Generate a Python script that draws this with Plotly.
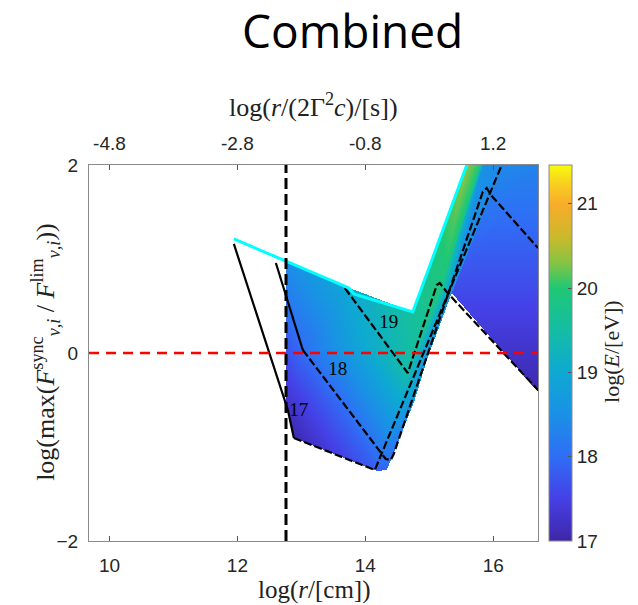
import numpy as np
import plotly.graph_objects as go

# ---------------- axes ----------------
R_LIMITS = [9.68, 16.70]            # log(r/[cm])
RATIO_LIMITS = [-2.0, 2.0]          # log(max(F_sync / F_lim))
T_OFFSET = 14.8                     # log(r/(2Γ²c)/[s]) = log(r/[cm]) - T_OFFSET
R_TICKS = [10, 12, 14, 16]
T_TICKS = [-4.8, -2.8, -0.8, 1.2]
RATIO_TICKS = [-2, 0, 2]
E_LIMITS = [17.0, 21.46]
E_TICKS = [17, 18, 19, 20, 21]

# ---------------- shaded region A (mesh: vertices with log E) ----------------
A_R = [12.758, 13.711, 14.742, 15.586, 15.789, 15.852, 16.148, 15.352,
       14.961, 14.336, 14.180, 12.883, 12.789, 12.758, 13.023, 14.664,
       14.273, 15.180, 13.961, 13.602, 14.773]
A_RATIO = [0.979, 0.702, 0.436, 2.000, 2.000, 2.000, 2.000, 0.638,
           -0.074, -1.245, -1.255, -0.904, -0.606, -0.543, 0.032, -0.213,
           -1.117, 0.691, 0.106, -0.500, -0.500]
A_E = [18.45, 18.95, 19.6, 20.35, 20.0, 18.5, 18.4, 18.5,
       18.65, 17.9, 17.85, 17.05, 17.2, 17.25, 18.0, 19.45,
       18.1, 19.9, 19.0, 18.0, 18.7]
A_TRI = [(0, 1, 14), (0, 14, 13), (13, 14, 12), (12, 14, 19), (12, 19, 11),
         (11, 19, 10), (19, 16, 10), (16, 9, 10), (1, 18, 14), (14, 18, 19),
         (18, 16, 19), (1, 2, 18), (2, 15, 18), (18, 15, 16), (15, 20, 16),
         (16, 20, 9), (20, 8, 9), (15, 8, 20), (2, 17, 15), (15, 17, 7),
         (15, 7, 8), (2, 3, 17), (3, 4, 17), (4, 5, 17), (5, 7, 17), (5, 6, 7)]

# ---------------- shaded region B ----------------
B_R = [15.352, 16.148, 16.700, 16.700]
B_RATIO = [0.638, 2.000, 2.000, -0.415]
B_E = [17.6, 18.4, 18.3, 17.05]
B_TRI = [(0, 1, 2), (0, 2, 3)]

# ---------------- curves ----------------
ENV_R = [11.945, 12.758, 13.289, 13.711, 13.758, 13.820, 14.742, 15.586]
ENV_RATIO = [1.213, 0.979, 0.819, 0.702, 0.681, 0.628, 0.436, 2.0]

E17_SOLID_R = [11.945, 12.789, 12.883]
E17_SOLID_RATIO = [1.160, -0.606, -0.904]
E17_DASH_R = [12.883, 14.148, 16.133]
E17_DASH_RATIO = [-0.904, -1.245, 2.0]

E18_SOLID_R = [12.602, 13.023]
E18_SOLID_RATIO = [0.957, 0.032]
E18_DASH_R = [13.023, 14.320, 14.398, 14.445, 15.836, 15.898, 15.977, 16.700]
E18_DASH_RATIO = [0.032, -1.128, -1.138, -1.074, 1.713, 1.755, 1.670, 1.117]

E19_DASH_R = [13.680, 14.664, 15.117, 15.164, 15.273, 16.700]
E19_DASH_RATIO = [0.691, -0.213, 0.723, 0.745, 0.649, -0.394]

R_DEC = 12.76          # vertical marker, log(r/[cm])
RATIO_UNITY = 0.0      # horizontal marker

CURVE_LABELS = ["17", "18", "19"]
LABEL_R = [12.961, 13.570, 14.367]
LABEL_RATIO = [-0.617, -0.181, 0.319]

# parula-like colour map, stops given in log E
CMAP_E = [17.0, 17.5, 18.0, 18.5, 19.0, 19.5, 20.0, 20.3, 20.6, 21.0, 21.25, 21.46]
CMAP_C = ["#3e26a8", "#4540e6", "#2f6ef5", "#1a90e6", "#0ea9d2", "#14bda4",
          "#1fc874", "#86c443", "#c9b92c", "#f9ac2a", "#f8d21f", "#f9fb0e"]
colorscale = [[(e - E_LIMITS[0]) / (E_LIMITS[1] - E_LIMITS[0]), c]
              for e, c in zip(CMAP_E, CMAP_C)]

# ---------------- raster shading of the regions ----------------
NX, NY = 449, 376
xs = R_LIMITS[0] + (np.arange(NX) + 0.5) * (R_LIMITS[1] - R_LIMITS[0]) / NX
ys = RATIO_LIMITS[0] + (np.arange(NY) + 0.5) * (RATIO_LIMITS[1] - RATIO_LIMITS[0]) / NY
GX, GY = np.meshgrid(xs, ys)
Z = np.full(GX.shape, np.nan)


def shade(vx, vy, ve, tris):
    for i, j, k in tris:
        x1, y1, e1 = vx[i], vy[i], ve[i]
        x2, y2, e2 = vx[j], vy[j], ve[j]
        x3, y3, e3 = vx[k], vy[k], ve[k]
        det = (y2 - y3) * (x1 - x3) + (x3 - x2) * (y1 - y3)
        l1 = ((y2 - y3) * (GX - x3) + (x3 - x2) * (GY - y3)) / det
        l2 = ((y3 - y1) * (GX - x3) + (x1 - x3) * (GY - y3)) / det
        l3 = 1.0 - l1 - l2
        inside = (l1 >= -1e-9) & (l2 >= -1e-9) & (l3 >= -1e-9)
        Z[inside] = (l1 * e1 + l2 * e2 + l3 * e3)[inside]


shade(B_R, B_RATIO, B_E, B_TRI)
shade(A_R, A_RATIO, A_E, A_TRI)

z_list = [[None if np.isnan(v) else round(float(v), 3) for v in row] for row in Z]

fig = go.Figure()

fig.add_trace(go.Heatmap(
    x=xs, y=ys, z=z_list, zmin=E_LIMITS[0], zmax=E_LIMITS[1],
    colorscale=colorscale, zsmooth=False, hoverinfo="skip",
    colorbar=dict(
        x=1.0245, xanchor="left", xpad=0, y=0.5, yanchor="middle", ypad=0,
        len=1.0, lenmode="fraction", thickness=23,
        outlinecolor="#8a8a8a", outlinewidth=1,
        tickvals=E_TICKS, ticks="inside", ticklen=4, tickcolor="#555",
        tickfont=dict(family="Liberation Sans", size=19, color="#262626"),
    ),
))

dash_curve = "8px,3px"
black = "#000000"


def line(xv, yv, color=black, width=2.2, dash="solid"):
    fig.add_trace(go.Scatter(x=xv, y=yv, mode="lines", hoverinfo="skip",
                             line=dict(color=color, width=width, dash=dash)))


line(E17_SOLID_R, E17_SOLID_RATIO)
line(E17_DASH_R, E17_DASH_RATIO, dash=dash_curve)
line(E18_SOLID_R, E18_SOLID_RATIO)
line(E18_DASH_R, E18_DASH_RATIO, dash=dash_curve)
line(E19_DASH_R, E19_DASH_RATIO, dash=dash_curve)
line(ENV_R, ENV_RATIO, color="#00ffff", width=3)
line([R_DEC, R_DEC], RATIO_LIMITS, width=3, dash="11px,5px")
line(R_LIMITS, [RATIO_UNITY, RATIO_UNITY], color="#ff0000", width=2.6, dash="10px,7px")

fig.add_trace(go.Scatter(
    x=LABEL_R, y=LABEL_RATIO, mode="text", text=CURVE_LABELS, hoverinfo="skip",
    textfont=dict(family="Liberation Serif", size=19, color="black"),
))

# invisible trace carrying the top (time) axis
fig.add_trace(go.Scatter(
    x=[R_LIMITS[0] - T_OFFSET, R_LIMITS[1] - T_OFFSET], y=RATIO_LIMITS,
    xaxis="x2", mode="markers", marker=dict(opacity=0), hoverinfo="skip",
))

tick_font = dict(family="Liberation Sans", size=19, color="#262626")
axis_common = dict(showgrid=False, zeroline=False, showline=True, linecolor="#8a8a8a",
                   linewidth=1, ticks="inside", ticklen=5, tickcolor="#555",
                   tickfont=tick_font)

fig.update_layout(
    width=638, height=605,
    margin=dict(l=89, r=100, t=165, b=64),
    paper_bgcolor="white", plot_bgcolor="white",
    showlegend=False,
    xaxis=dict(range=R_LIMITS, tickvals=R_TICKS, mirror=False,
               ticklabelstandoff=7, **axis_common),
    xaxis2=dict(range=[R_LIMITS[0] - T_OFFSET, R_LIMITS[1] - T_OFFSET],
                tickvals=T_TICKS, ticktext=[f"{t:.1f}" for t in T_TICKS],
                overlaying="x", side="top", anchor="y",
                ticklabelstandoff=6, **axis_common),
    yaxis=dict(range=RATIO_LIMITS, tickvals=RATIO_TICKS, mirror=True,
               ticklabelstandoff=6, **axis_common),
)

serif = "Liberation Serif"
fig.add_annotation(text="Combined", xref="paper", yref="paper", x=0.586, y=1.36,
                   xanchor="center", yanchor="middle", showarrow=False,
                   font=dict(family="Open Sans", size=46, color="black"))
fig.add_annotation(text="log(<i>r</i>/(2Γ<sup>2</sup><i>c</i>)/[s])", xref="paper", yref="paper",
                   x=0.501, y=1.157, xanchor="center", yanchor="middle", showarrow=False,
                   font=dict(family=serif, size=26, color="#222"))
fig.add_annotation(text="log(<i>r</i>/[cm])", xref="paper", yref="paper",
                   x=0.501, y=-0.130, xanchor="center", yanchor="middle", showarrow=False,
                   font=dict(family=serif, size=25, color="#222"))
fig.add_annotation(text="log(max(<i>F</i><sup>sync</sup><sub><i>ν,i</i></sub> / <i>F</i><sup>lim</sup><sub><i>ν,i</i></sub>))",
                   xref="paper", yref="paper", x=-0.098, y=0.503, textangle=-90,
                   xanchor="center", yanchor="middle", showarrow=False,
                   font=dict(family=serif, size=26, color="#222"))
fig.add_annotation(text="log(<i>E</i>/[eV])", xref="paper", yref="paper",
                   x=1.165, y=0.503, textangle=-90,
                   xanchor="center", yanchor="middle", showarrow=False,
                   font=dict(family=serif, size=22, color="#222"))

fig.write_html("out.html")
